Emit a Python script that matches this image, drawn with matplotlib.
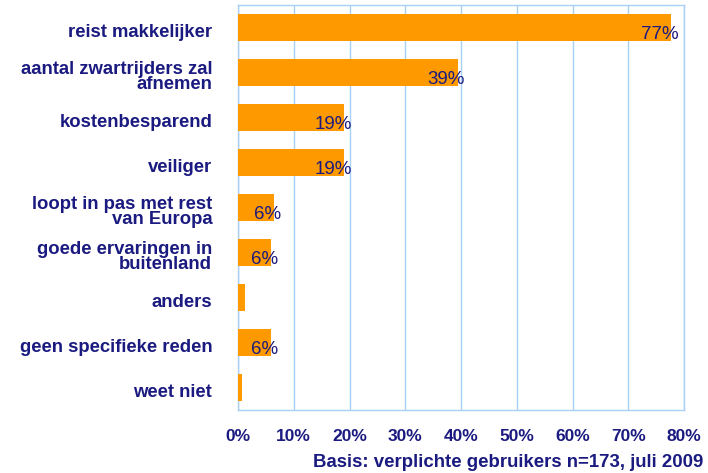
import matplotlib.pyplot as plt
import matplotlib.transforms as mtransforms
import numpy as np

categories = [
    "reist makkelijker",
    "aantal zwartrijders zal\nafnemen",
    "kostenbesparend",
    "veiliger",
    "loopt in pas met rest\nvan Europa",
    "goede ervaringen in\nbuitenland",
    "anders",
    "geen specifieke reden",
    "weet niet",
]
values = [77.7, 39.4, 19.1, 19.1, 6.4, 5.9, 1.2, 5.9, 0.7]
labels = ["77%", "39%", "19%", "19%", "6%", "6%", "", "6%", ""]
xticks = [0, 10, 20, 30, 40, 50, 60, 70, 80]

navy = "#1a1a80"
grid = "#a8d0f5"

plt.rcParams['font.family'] = ['Liberation Sans', 'DejaVu Sans']

fig = plt.figure(figsize=(7.08, 4.73), dpi=100)
ax = fig.add_axes([238 / 708, 1 - 410 / 473, (684 - 238) / 708, 405 / 473])

y = np.arange(len(categories))
ax.barh(y, values, height=0.62, color="#ff9900", zorder=3)
ax.set_ylim(len(categories) - 0.5, -0.5)
ax.set_xlim(0, 80)

ax.set_xticks(xticks)
ax.set_xticklabels([f"{t}%" for t in xticks], fontsize=12.5, fontweight="bold", color=navy)
ax.set_yticks(y)
ax.set_yticklabels(categories, fontsize=13.3, fontweight="bold", color=navy,
                   multialignment="right", linespacing=0.9)
ax.tick_params(axis="both", length=0)
ax.tick_params(axis="y", pad=18.5)
ax.tick_params(axis="x", pad=14)

# labels sit a little below the bar centres in the original
shift = mtransforms.ScaledTranslation(0, -3 / 100, fig.dpi_scale_trans)
for lbl in ax.get_yticklabels():
    lbl.set_transform(lbl.get_transform() + shift)

ax.grid(axis="x", color=grid, linewidth=1, zorder=0)
for s in ax.spines.values():
    s.set_color(grid)
    s.set_linewidth(1)

for yi, v, lab in zip(y, values, labels):
    if lab:
        ax.text(v + 1.3, yi + 0.15, lab, ha="right", va="center",
                fontsize=13.5, color=navy, zorder=4)

fig.text(703 / 708, 1 - 462 / 473, "Basis: verplichte gebruikers n=173, juli 2009",
         ha="right", va="center", fontsize=13.4, fontweight="bold", color=navy)

fig.savefig("out.png", dpi=100)
